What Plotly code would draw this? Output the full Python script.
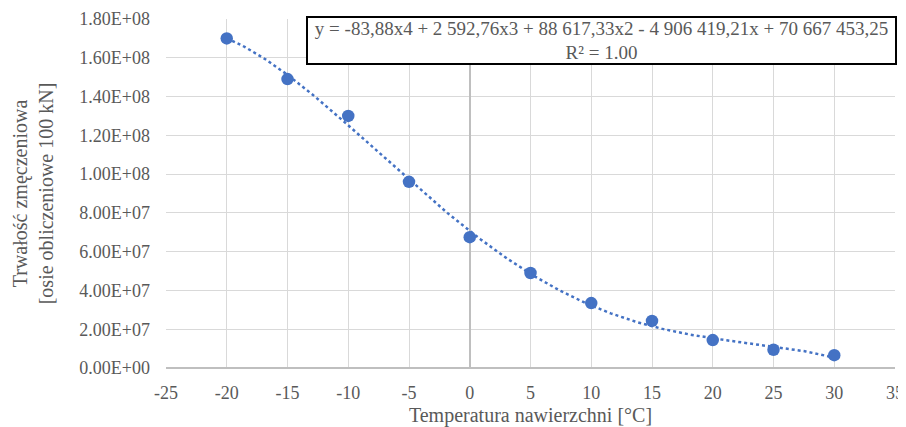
import numpy as np
import plotly.graph_objects as go

# Data
temperature = [-20, -15, -10, -5, 0, 5, 10, 15, 20, 25, 30]
fatigue_life = [1.70e8, 1.49e8, 1.30e8, 0.96e8, 0.675e8, 0.49e8, 0.335e8, 0.243e8, 0.144e8, 0.094e8, 0.066e8]

# Trendline coefficients shown in the chart (x^4 ... x^0)
trend_coeffs = [-83.88, 2592.76, 88617.33, -4906419.21, 70667453.25]
equation_text = "y = -83,88x4 + 2 592,76x3 + 88 617,33x2 - 4 906 419,21x + 70 667 453,25<br>R² = 1.00"

x_ticks = [-25, -20, -15, -10, -5, 0, 5, 10, 15, 20, 25, 30, 35]
x_tick_labels = ["-25", "-20", "-15", "-10", "-5", "0", "5", "10", "15", "20", "25", "30", "35"]
y_ticks = [0, 2e7, 4e7, 6e7, 8e7, 1e8, 1.2e8, 1.4e8, 1.6e8, 1.8e8]
y_tick_labels = ["0.00E+00", "2.00E+07", "4.00E+07", "6.00E+07", "8.00E+07",
                 "1.00E+08", "1.20E+08", "1.40E+08", "1.60E+08", "1.80E+08"]

BLUE = "#4472C4"
GRAY_TXT = "#595959"
FONT = "'Liberation Serif', 'Times New Roman', Times, serif"

xt = np.linspace(min(temperature), max(temperature), 300)
yt = np.polyval(trend_coeffs, xt)

fig = go.Figure()
fig.add_trace(go.Scatter(x=xt, y=yt, mode="lines",
                         line=dict(color=BLUE, width=2.5, dash="dot"),
                         hoverinfo="skip", showlegend=False))
fig.add_trace(go.Scatter(x=temperature, y=fatigue_life, mode="markers",
                         marker=dict(color=BLUE, size=12.5),
                         showlegend=False))

fig.add_annotation(xref="paper", yref="paper", x=0.598, y=1.0086,
                   xanchor="center", yanchor="top",
                   text=equation_text, showarrow=False,
                   width=583, height=41,
                   font=dict(family=FONT, size=19, color=GRAY_TXT),
                   bgcolor="white", bordercolor="black", borderwidth=2,
                   borderpad=2, align="center", valign="middle")

fig.update_layout(
    width=898, height=419,
    margin=dict(l=158, r=11, t=11, b=59, autoexpand=False),
    paper_bgcolor="white", plot_bgcolor="white",
    font=dict(family=FONT, size=18, color=GRAY_TXT),
    xaxis=dict(range=[-25, 35], tickvals=x_ticks, ticktext=x_tick_labels,
               ticks="", ticklabelstandoff=12, automargin=False,
               showgrid=True, gridcolor="#D9D9D9", gridwidth=1.3,
               zeroline=True, zerolinecolor="#BFBFBF", zerolinewidth=1.8,
               showline=False,
               title=dict(text="Temperatura nawierzchni [°C]",
                          font=dict(family=FONT, size=20, color=GRAY_TXT),
                          standoff=14),
               tickfont=dict(family=FONT, size=18, color=GRAY_TXT)),
    yaxis=dict(range=[0, 1.8e8], tickvals=y_ticks, ticktext=y_tick_labels,
               ticks="", ticklabelstandoff=15, automargin=False,
               showgrid=True, gridcolor="#D9D9D9", gridwidth=1.3,
               zeroline=True, zerolinecolor="#BFBFBF", zerolinewidth=1.8,
               showline=False,
               title=dict(text="Trwałość zmęczeniowa<br>[osie obliczeniowe 100 kN]",
                          font=dict(family=FONT, size=20, color=GRAY_TXT),
                          standoff=20),
               tickfont=dict(family=FONT, size=18, color=GRAY_TXT)),
)

fig.write_html("out.html")
